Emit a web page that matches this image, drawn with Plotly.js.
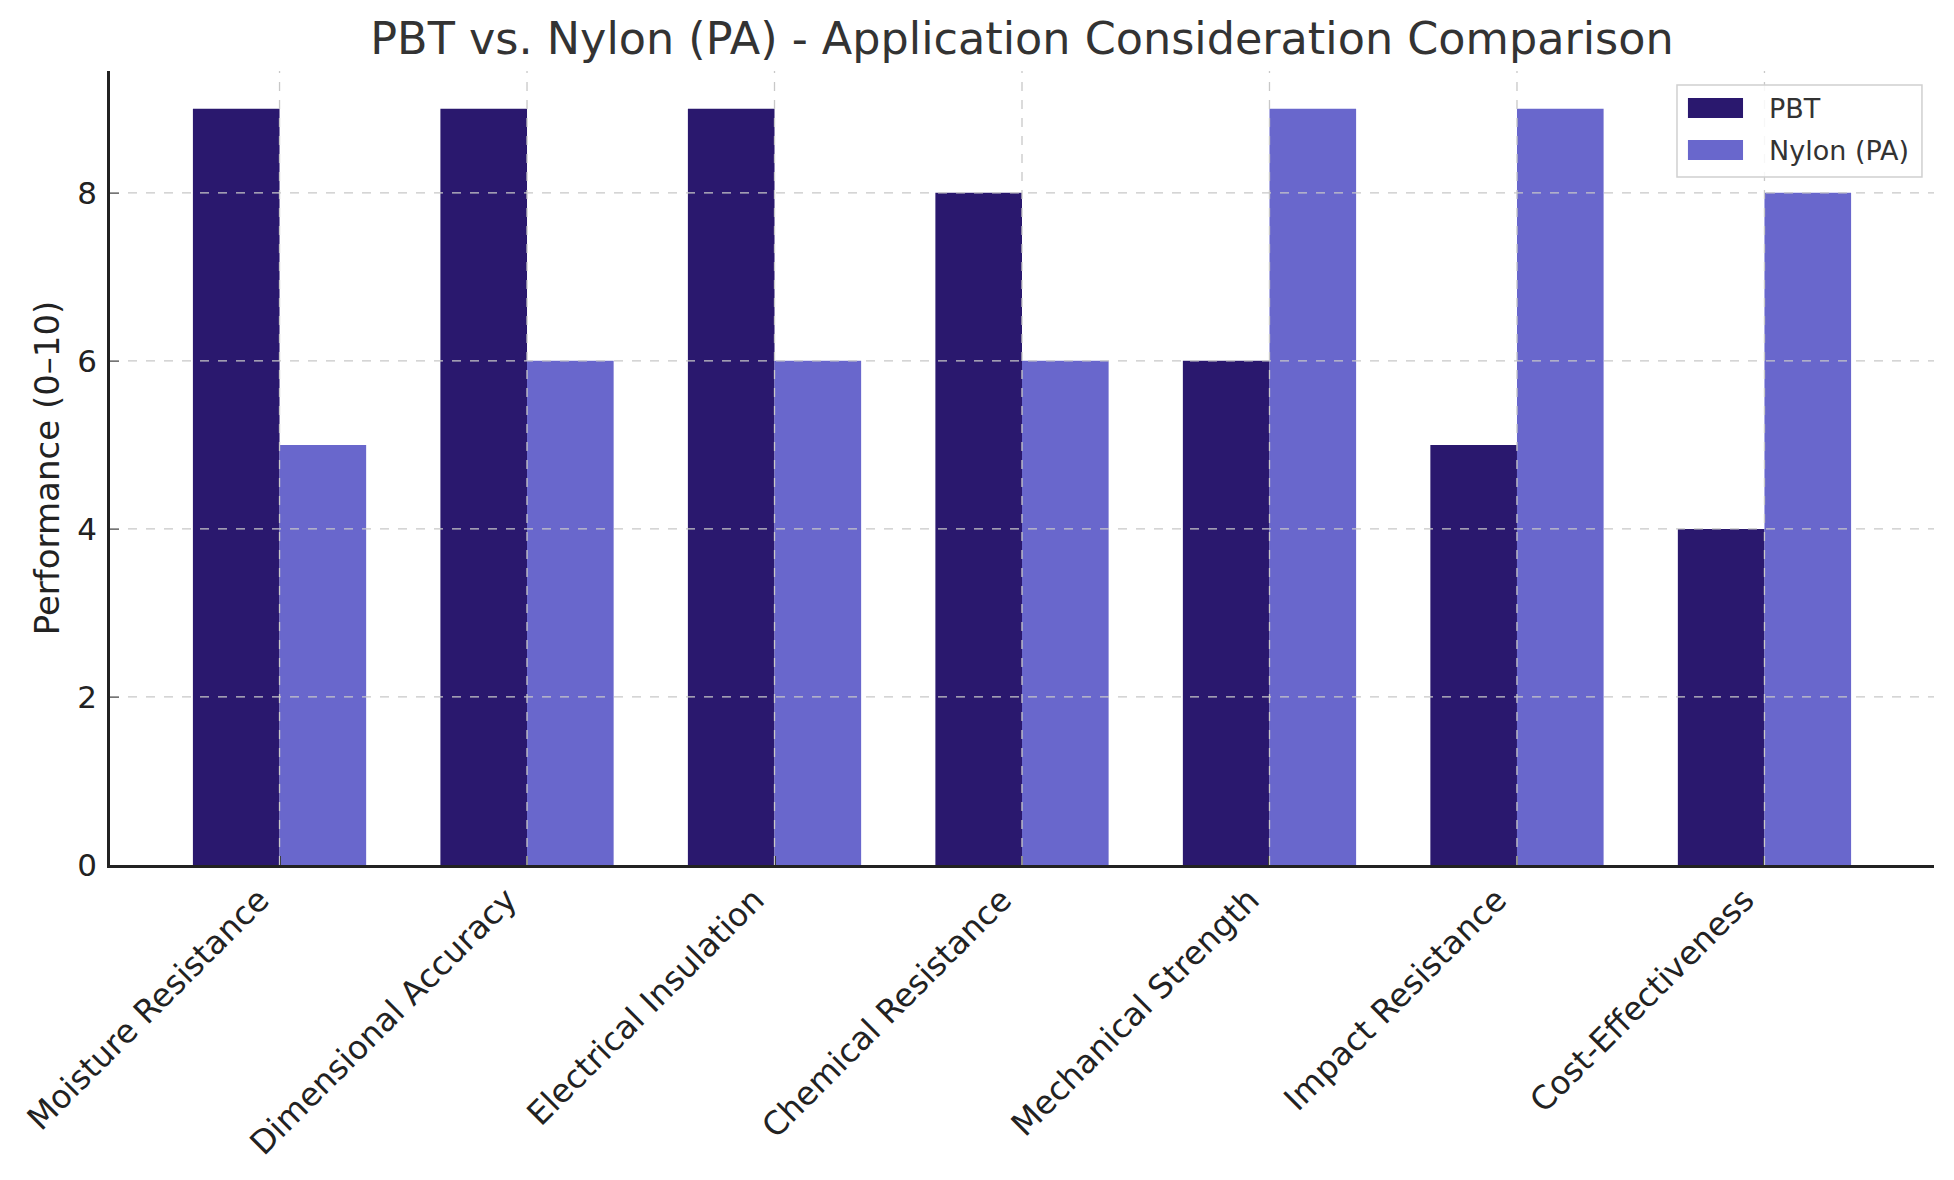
<!DOCTYPE html>
<html>
<head>
<meta charset="utf-8">
<script src="https://cdn.plot.ly/plotly-3.0.1.min.js"></script>
<style>html,body{margin:0;padding:0;background:#fff;}#chart{width:1954px;height:1180px;}</style>
</head>
<body>
<div id="chart"></div>
<script>
const categories = ["Moisture Resistance", "Dimensional Accuracy", "Electrical Insulation", "Chemical Resistance", "Mechanical Strength", "Impact Resistance", "Cost-Effectiveness"];
const pbtValues = [9, 9, 9, 8, 6, 5, 4];
const nylonValues = [5, 6, 6, 6, 9, 9, 8];
const seriesNames = ["PBT", "Nylon (PA)"];
const yTickValues = [0, 2, 4, 6, 8];

const FONT = "DejaVu Sans, Verdana, sans-serif";
const gridColor = "#c8c8c8";
const seriesColors = ["#2a186e", "#6967cc"];

const traces = [
  {type: "bar", name: seriesNames[0], x: categories, y: pbtValues, marker: {color: seriesColors[0], line: {width: 0}}, hoverinfo: "x+y"},
  {type: "bar", name: seriesNames[1], x: categories, y: nylonValues, marker: {color: seriesColors[1], line: {width: 0}}, hoverinfo: "x+y"}
];

// grid lines drawn above bars (as matplotlib does by default)
const shapes = [];
yTickValues.filter(v => v > 0).forEach(v => shapes.push({
  type: "line", xref: "paper", yref: "y", x0: 0, x1: 1, y0: v, y1: v,
  line: {color: gridColor, width: 1.3, dash: "dash"}, layer: "above"
}));
categories.forEach(c => shapes.push({
  type: "line", xref: "x", yref: "paper", x0: c, x1: c, y0: 0, y1: 1,
  line: {color: gridColor, width: 1.3, dash: "dash"}, layer: "above"
}));

// custom legend (matplotlib style: wide swatches in a rounded frame)
const annotations = [];
shapes.push({
  type: "rect", xref: "paper", yref: "paper", x0: 0.8591, x1: 0.9934, y0: 0.8665, y1: 0.9824,
  fillcolor: "rgba(255,255,255,0.85)", line: {color: "#d0d0d0", width: 1.5}, layer: "above"
});
const legendRows = [
  {sy0: 0.9408, sy1: 0.9660, ty: 0.9534},
  {sy0: 0.8879, sy1: 0.9131, ty: 0.9005}
];
seriesNames.forEach((name, i) => {
  shapes.push({
    type: "rect", xref: "paper", yref: "paper", x0: 0.8651, x1: 0.8953,
    y0: legendRows[i].sy0, y1: legendRows[i].sy1,
    fillcolor: seriesColors[i], line: {width: 0}, layer: "above"
  });
  annotations.push({
    xref: "paper", yref: "paper", x: 0.9084, y: legendRows[i].ty,
    xanchor: "left", yanchor: "middle", showarrow: false, text: name,
    font: {family: FONT, size: 27, color: "#333333"}
  });
});

const layout = {
  width: 1954, height: 1180,
  paper_bgcolor: "#ffffff", plot_bgcolor: "#ffffff",
  margin: {l: 110, r: 20, t: 71, b: 315, pad: 0},
  barmode: "group", bargap: 0.3, bargroupgap: 0,
  font: {family: FONT, color: "#222222"},
  title: {
    text: "PBT vs. Nylon (PA) - Application Consideration Comparison",
    font: {family: FONT, size: 44.5, color: "#333333"},
    xref: "paper", x: 0.5, xanchor: "center",
    yref: "container", y: 1 - 38 / 1180, yanchor: "middle"
  },
  xaxis: {
    type: "category",
    range: [-0.685, 6.685],
    showgrid: false, zeroline: false,
    showline: true, linecolor: "#222222", linewidth: 2.5,
    ticks: "inside", ticklen: 9, tickwidth: 2, tickcolor: "#222222",
    tickangle: -45,
    ticklabelshift: -20,
    tickfont: {family: FONT, size: 32.5, color: "#222222"},
    automargin: false
  },
  yaxis: {
    range: [0, 9.45],
    tickvals: yTickValues,
    ticktext: yTickValues.map(String),
    showgrid: false, zeroline: false,
    showline: true, linecolor: "#222222", linewidth: 2.5,
    ticks: "inside", ticklen: 9, tickwidth: 2, tickcolor: "#222222",
    tickfont: {family: FONT, size: 31, color: "#222222"},
    ticklabelstandoff: 4,
    title: {text: "Performance (0–10)", font: {family: FONT, size: 34, color: "#222222"}, standoff: 8},
    automargin: false
  },
  showlegend: false,
  shapes: shapes,
  annotations: annotations
};

Plotly.newPlot("chart", traces, layout, {displayModeBar: false, responsive: false});
</script>
</body>
</html>
